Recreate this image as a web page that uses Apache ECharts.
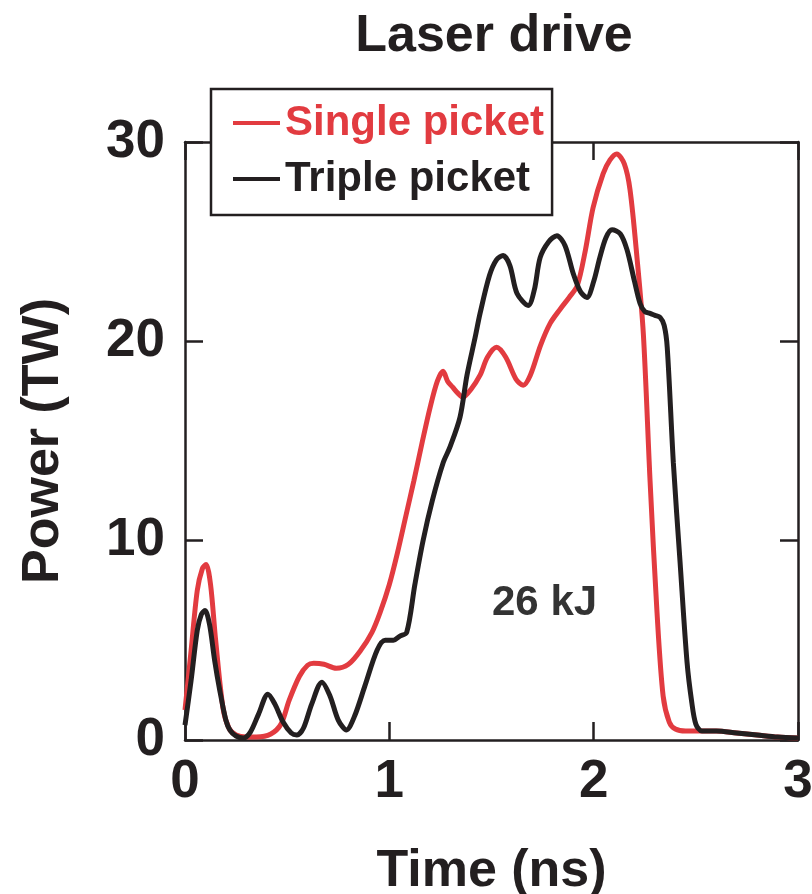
<!DOCTYPE html>
<html>
<head>
<meta charset="utf-8">
<script src="https://cdn.jsdelivr.net/npm/echarts@6/dist/echarts.min.js"></script>
<style>
html,body{margin:0;padding:0;background:#fff;}
#chart{width:812px;height:894px;}
</style>
</head>
<body>
<div id="chart"></div>
<script>
const titleText = 'Laser drive';
const xName = 'Time (ns)';
const yName = 'Power (TW)';
const seriesNames = ['Single picket', 'Triple picket'];
const xTicks = [0, 1, 2, 3];
const yTicks = [0, 10, 20, 30];
const annotationText = '26 kJ';

const singleTime = [0, 0.03, 0.06, 0.085, 0.103, 0.125, 0.15, 0.186, 0.215, 0.25, 0.3, 0.35, 0.42, 0.47, 0.51, 0.56, 0.6, 0.63, 0.68, 0.74, 0.8, 0.86, 0.915, 0.955, 1.0, 1.04, 1.08, 1.12, 1.16, 1.2, 1.235, 1.263, 1.285, 1.31, 1.335, 1.36, 1.4, 1.444, 1.48, 1.525, 1.57, 1.62, 1.655, 1.69, 1.74, 1.787, 1.835, 1.88, 1.92, 1.96, 1.997, 2.046, 2.08, 2.113, 2.15, 2.178, 2.212, 2.243, 2.276, 2.31, 2.34, 2.37, 2.4, 2.45, 2.5, 2.6, 2.7, 2.8, 2.9, 3.0];
const singlePower = [1.5, 4.5, 7.5, 8.6, 8.8, 7.8, 5.0, 1.6, 0.6, 0.25, 0.15, 0.15, 0.3, 0.8, 2.0, 3.2, 3.75, 3.85, 3.8, 3.6, 3.8, 4.5, 5.4, 6.4, 7.8, 9.4, 11.2, 13.0, 14.9, 16.7, 18.0, 18.5, 18.0, 17.7, 17.4, 17.2, 17.6, 18.3, 19.2, 19.7, 19.2, 18.1, 17.8, 18.3, 19.8, 20.9, 21.6, 22.2, 22.8, 24.6, 26.7, 28.4, 29.1, 29.4, 28.9, 27.6, 24.2, 20.4, 13.0, 6.4, 2.2, 0.9, 0.55, 0.45, 0.45, 0.45, 0.35, 0.25, 0.15, 0.1];

const tripleTime = [0, 0.03, 0.06, 0.08, 0.098, 0.12, 0.145, 0.17, 0.2, 0.22, 0.25, 0.285, 0.32, 0.36, 0.406, 0.44, 0.48, 0.52, 0.548, 0.58, 0.62, 0.67, 0.71, 0.75, 0.79, 0.83, 0.88, 0.94, 0.98, 1.02, 1.05, 1.085, 1.125, 1.165, 1.21, 1.263, 1.297, 1.346, 1.38, 1.42, 1.444, 1.49, 1.525, 1.557, 1.59, 1.625, 1.68, 1.71, 1.738, 1.78, 1.82, 1.86, 1.9, 1.935, 1.967, 2.0, 2.03, 2.06, 2.09, 2.13, 2.163, 2.2, 2.227, 2.25, 2.276, 2.3, 2.325, 2.345, 2.36, 2.39, 2.423, 2.457, 2.48, 2.5, 2.53, 2.6, 2.7, 2.8, 2.9, 3.0];
const triplePower = [0.75, 3.0, 5.5, 6.3, 6.5, 5.8, 4.0, 2.5, 1.0, 0.5, 0.2, 0.1, 0.4, 1.3, 2.3, 1.8, 0.9, 0.35, 0.25, 0.6, 1.8, 2.9, 2.2, 1.0, 0.5, 1.2, 2.7, 4.5, 5.0, 5.0, 5.2, 5.4, 7.8, 10.0, 12.0, 13.9, 14.7, 16.2, 18.3, 20.2, 21.4, 23.3, 24.1, 24.3, 23.8, 22.4, 21.8, 22.6, 24.2, 25.0, 25.3, 24.8, 23.4, 22.5, 22.2, 23.0, 24.2, 25.2, 25.6, 25.4, 24.6, 23.0, 21.9, 21.5, 21.4, 21.3, 21.2, 20.8, 19.7, 13.9, 8.9, 3.9, 1.9, 0.8, 0.45, 0.45, 0.35, 0.25, 0.15, 0.1];

const FONT = '"Liberation Sans", Arial, Helvetica, sans-serif';
const RED = '#e23b40';
const BLACK = '#231f20';

const pairs = (xs, ys) => xs.map((x, i) => [x, ys[i]]);

const chart = echarts.init(document.getElementById('chart'), null, {renderer: 'canvas'});

const axisCommon = {
  type: 'value',
  axisLine: {show: true, onZero: false, lineStyle: {color: BLACK, width: 2.5}},
  axisTick: {show: true, inside: true, length: 18, lineStyle: {color: BLACK, width: 2.5}},
  splitLine: {show: false}
};

const tickLabel = {show: true, fontFamily: FONT, fontWeight: 'bold', fontSize: 53, color: BLACK,
  showMinLabel: true, showMaxLabel: true};

chart.setOption({
  animation: false,
  backgroundColor: '#fff',
  title: {
    text: titleText,
    left: 489,
    textAlign: 'center',
    top: 6,
    textStyle: {fontFamily: FONT, fontWeight: 'bold', fontSize: 52, color: BLACK}
  },
  grid: {left: 185, right: 14, top: 142, bottom: 154, containLabel: false, outerBoundsMode: 'none'},
  legend: {
    orient: 'vertical',
    left: 211,
    top: 89,
    padding: [13, 8, 15, 22],
    itemGap: 14,
    itemWidth: 47,
    itemHeight: 4,
    icon: 'rect',
    backgroundColor: '#fff',
    borderColor: BLACK,
    borderWidth: 2.5,
    borderRadius: 0,
    z: 10,
    data: [
      {name: seriesNames[0], icon: 'rect', textStyle: {color: RED}},
      {name: seriesNames[1], icon: 'rect', textStyle: {color: BLACK}}
    ],
    textStyle: {fontFamily: FONT, fontWeight: 'bold', fontSize: 42, lineHeight: 40}
  },
  xAxis: [
    Object.assign({}, axisCommon, {
      min: xTicks[0], max: xTicks[xTicks.length - 1], interval: 1,
      position: 'bottom',
      name: xName,
      nameLocation: 'middle',
      nameGap: 106,
      nameTextStyle: {fontFamily: FONT, fontWeight: 'bold', fontSize: 52, color: BLACK},
      axisLabel: Object.assign({margin: 16}, tickLabel)
    }),
    Object.assign({}, axisCommon, {
      min: xTicks[0], max: xTicks[xTicks.length - 1], interval: 1,
      position: 'top',
      axisLabel: {show: false}
    })
  ],
  yAxis: [
    Object.assign({}, axisCommon, {
      min: yTicks[0], max: yTicks[yTicks.length - 1], interval: 10,
      position: 'left',
      name: yName,
      nameLocation: 'middle',
      nameGap: 115,
      nameRotate: 90,
      nameTextStyle: {fontFamily: FONT, fontWeight: 'bold', fontSize: 52, color: BLACK},
      axisLabel: Object.assign({margin: 20}, tickLabel)
    }),
    Object.assign({}, axisCommon, {
      min: yTicks[0], max: yTicks[yTicks.length - 1], interval: 10,
      position: 'right',
      axisLabel: {show: false}
    })
  ],
  series: [
    {
      name: seriesNames[0], type: 'line', xAxisIndex: 0, yAxisIndex: 0,
      data: pairs(singleTime, singlePower),
      smooth: 0.3, symbol: 'none', showSymbol: false,
      lineStyle: {color: RED, width: 5},
      itemStyle: {color: RED},
      z: 3
    },
    {
      name: seriesNames[1], type: 'line', xAxisIndex: 0, yAxisIndex: 0,
      data: pairs(tripleTime, triplePower),
      smooth: 0.3, symbol: 'none', showSymbol: false,
      lineStyle: {color: BLACK, width: 5},
      itemStyle: {color: BLACK},
      z: 4
    }
  ],
  graphic: [
    {
      type: 'text',
      left: 492,
      top: 582,
      style: {text: annotationText, fontFamily: FONT, fontWeight: 'bold', fontSize: 42, fill: '#333'}
    }
  ]
});
</script>
</body>
</html>
